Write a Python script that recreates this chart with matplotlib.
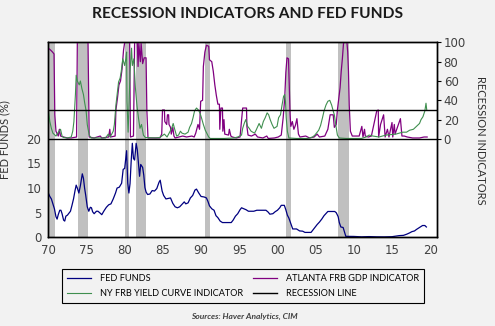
import matplotlib
matplotlib.use("Agg")
import matplotlib.pyplot as plt

# recession indicators and fed funds, 1970-2019

fed_year = [1970.0, 1970.2, 1970.4, 1970.6, 1970.8, 1971.0, 1971.15, 1971.3, 1971.5, 1971.65, 1971.8,
            1972.0, 1972.15, 1972.3, 1972.5, 1972.7, 1972.9, 1973.1, 1973.3, 1973.5, 1973.65, 1973.8,
            1974.0, 1974.2, 1974.45, 1974.6, 1974.75, 1974.9, 1975.1, 1975.3, 1975.5, 1975.65, 1975.8,
            1976.0, 1976.3, 1976.5, 1976.8, 1977.0, 1977.3, 1977.6, 1977.9, 1978.2, 1978.5, 1978.8,
            1979.0, 1979.3, 1979.6, 1979.8, 1980.0, 1980.25, 1980.4, 1980.55, 1980.7, 1980.85, 1981.0,
            1981.15, 1981.3, 1981.5, 1981.65, 1981.8, 1981.95, 1982.1, 1982.35, 1982.5, 1982.65, 1982.8,
            1983.0, 1983.3, 1983.6, 1983.9, 1984.2, 1984.5, 1984.65, 1984.9, 1985.1, 1985.4, 1985.7,
            1986.0, 1986.3, 1986.6, 1986.9, 1987.2, 1987.5, 1987.8, 1988.0, 1988.3, 1988.6, 1988.9,
            1989.2, 1989.4, 1989.7, 1990.0, 1990.4, 1990.7, 1990.9, 1991.1, 1991.4, 1991.7, 1991.95,
            1992.2, 1992.5, 1992.8, 1993.0, 1993.5, 1993.95, 1994.2, 1994.5, 1994.8, 1995.1, 1995.3,
            1995.6, 1995.9, 1996.2, 1996.5, 1996.9, 1997.3, 1997.7, 1998.0, 1998.5, 1998.8, 1999.0,
            1999.4, 1999.7, 2000.0, 2000.3, 2000.5, 2000.9, 2001.1, 2001.3, 2001.5, 2001.7, 2001.9,
            2002.0, 2002.5, 2002.9, 2003.3, 2003.6, 2004.0, 2004.4, 2004.6, 2004.9, 2005.2, 2005.5,
            2005.8, 2006.1, 2006.4, 2006.6, 2007.0, 2007.5, 2007.7, 2007.95, 2008.1, 2008.3, 2008.6,
            2008.8, 2008.95, 2009.3, 2010.0, 2011.0, 2012.0, 2013.0, 2014.0, 2015.0, 2015.95, 2016.5,
            2016.95, 2017.3, 2017.6, 2017.95, 2018.2, 2018.5, 2018.8, 2019.0, 2019.3, 2019.5]
fed_rate = [9.0, 8.3, 7.8, 6.8, 5.8, 4.2, 3.7, 4.6, 5.5, 5.5, 4.8,
            3.5, 3.3, 4.3, 4.5, 4.9, 5.3, 6.5, 7.8, 9.5, 10.6, 10.0,
            9.0, 10.5, 12.9, 12.0, 10.0, 8.5, 6.2, 5.3, 6.1, 6.0, 5.2,
            4.8, 5.3, 5.3, 4.9, 4.6, 5.4, 6.1, 6.6, 6.8, 7.8, 9.0,
            10.0, 10.2, 11.0, 13.8, 14.0, 17.6, 11.0, 9.0, 10.9, 15.5, 19.1,
            16.0, 15.7, 19.1, 17.8, 15.1, 12.4, 14.8, 14.2, 12.6, 10.1, 9.2,
            8.7, 8.8, 9.5, 9.4, 9.9, 11.2, 11.6, 9.4, 8.5, 7.8, 7.9,
            8.0, 6.9, 6.2, 6.0, 6.2, 6.7, 7.2, 6.8, 7.0, 8.0, 8.5,
            9.6, 9.8, 9.0, 8.3, 8.2, 8.0, 7.3, 6.4, 5.8, 5.5, 4.4,
            4.0, 3.3, 3.0, 3.0, 3.0, 3.0, 3.5, 4.3, 4.8, 5.6, 6.0,
            5.8, 5.6, 5.3, 5.3, 5.3, 5.5, 5.5, 5.5, 5.5, 5.1, 4.7,
            4.8, 5.2, 5.5, 6.0, 6.5, 6.5, 5.6, 4.5, 3.9, 3.0, 2.1,
            1.7, 1.7, 1.3, 1.25, 1.0, 1.0, 1.0, 1.4, 2.0, 2.6, 3.1,
            3.7, 4.4, 4.9, 5.25, 5.25, 5.25, 5.0, 4.2, 3.0, 2.1, 2.0,
            1.0, 0.2, 0.2, 0.18, 0.1, 0.15, 0.1, 0.09, 0.13, 0.35, 0.4,
            0.65, 0.9, 1.15, 1.3, 1.6, 1.9, 2.2, 2.4, 2.4, 2.1]

atl_year = [1970.0, 1970.3, 1970.55, 1970.75, 1970.85, 1971.0, 1971.3, 1971.45, 1971.6, 1972.0, 1972.5,
            1973.0, 1973.7, 1973.8, 1975.2, 1975.35, 1976.0, 1976.8, 1977.0, 1977.9, 1978.05, 1978.15,
            1978.75, 1978.85, 1979.05, 1979.25, 1979.45, 1979.65, 1979.85, 1980.0, 1980.65, 1980.75,
            1981.15, 1981.3, 1981.65, 1981.75, 1981.85, 1982.05, 1982.15, 1982.35, 1982.55, 1982.8,
            1982.9, 1983.05, 1984.6, 1984.85, 1984.95, 1985.2, 1985.25, 1985.5, 1985.6, 1985.75, 1985.8,
            1986.0, 1986.1, 1986.3, 1986.45, 1986.6, 1987.6, 1988.1, 1988.8, 1989.1, 1989.3, 1989.6,
            1989.8, 1989.95, 1990.2, 1990.3, 1990.5, 1990.7, 1991.0, 1991.1, 1991.4, 1991.6, 1991.8,
            1992.0, 1992.2, 1992.4, 1992.45, 1992.6, 1992.8, 1992.85, 1993.0, 1993.1, 1993.6, 1993.7,
            1993.9, 1994.1, 1994.6, 1995.1, 1995.25, 1995.45, 1995.95, 1996.0, 1996.15, 1996.6, 1997.1,
            1997.4, 1998.1, 1998.6, 1998.8, 1999.6, 2000.1, 2000.5, 2000.75, 2000.95, 2001.1, 2001.25,
            2001.45, 2001.55, 2001.65, 2001.75, 2001.95, 2002.15, 2002.35, 2002.55, 2002.75, 2002.95,
            2003.7, 2004.2, 2004.8, 2005.2, 2005.5, 2006.2, 2006.6, 2006.9, 2007.3, 2007.45, 2007.7,
            2007.85, 2008.2, 2008.35, 2008.5, 2008.65, 2008.75, 2009.1, 2009.2, 2009.3, 2009.4, 2009.55,
            2009.8, 2010.2, 2010.7, 2011.05, 2011.2, 2011.4, 2011.5, 2011.9, 2012.3, 2013.0, 2013.2,
            2013.25, 2013.5, 2013.9, 2014.1, 2014.4, 2014.6, 2015.0, 2015.1, 2015.3, 2015.4, 2016.1,
            2016.3, 2016.6, 2017.0, 2017.7, 2018.6, 2019.2, 2019.6]
atl_prob = [94, 92, 90, 88, 25, 8, 3, 10, 3, 2, 1,
            1, 2, 100, 100, 2, 1, 3, 1, 2, 10, 2,
            3, 30, 42, 56, 60, 72, 92, 100, 100, 2,
            3, 100, 100, 75, 99, 80, 99, 78, 84, 84,
            30, 1, 1, 5, 30, 30, 18, 15, 25, 25, 15,
            12, 5, 12, 3, 1, 3, 2, 3, 2, 6, 15,
            10, 39, 40, 75, 90, 97, 96, 82, 80, 70, 56,
            45, 36, 36, 10, 32, 32, 8, 20, 5, 4, 10,
            3, 2, 1, 2, 15, 32, 32, 13, 4, 3, 5,
            2, 1, 3, 0.5, 1, 2, 4, 22, 42, 69, 84,
            83, 53, 26, 13, 18, 10, 14, 21, 5, 2,
            3, 1, 2, 5, 2, 3, 10, 25, 25, 12, 15,
            30, 53, 70, 83, 99, 100, 100, 90, 70, 35, 8,
            3, 3, 3, 13, 2, 10, 3, 2, 3, 29, 30,
            2, 15, 25, 2, 10, 2, 17, 2, 15, 5, 21,
            3, 3, 2, 1, 1, 2, 2]

ny_year = [1970.0, 1970.2, 1970.4, 1970.6, 1971.0, 1971.4, 1971.6, 1971.8, 1972.0, 1972.5, 1973.0,
           1973.2, 1973.35, 1973.55, 1973.65, 1973.8, 1974.05, 1974.2, 1974.4, 1974.6, 1974.75, 1974.95,
           1975.1, 1975.35, 1975.6, 1976.5, 1977.5, 1977.85, 1978.1, 1978.5, 1978.65, 1978.85, 1979.05,
           1979.2, 1979.4, 1979.55, 1979.75, 1980.0, 1980.15, 1980.25, 1980.3, 1980.45, 1980.55, 1980.7,
           1980.9, 1981.0, 1981.2, 1981.4, 1981.6, 1981.8, 1982.0, 1982.2, 1982.45, 1982.7, 1984.0,
           1984.6, 1985.2, 1985.55, 1986.15, 1986.35, 1986.55, 1986.8, 1987.05, 1987.3, 1987.5, 1987.9,
           1988.3, 1988.5, 1988.75, 1988.95, 1989.15, 1989.4, 1989.65, 1989.85, 1990.05, 1990.3, 1990.55,
           1990.8, 1991.0, 1991.2, 1993.0, 1994.3, 1994.8, 1995.3, 1995.45, 1995.65, 1995.85, 1996.1,
           1996.3, 1996.55, 1997.0, 1997.2, 1997.6, 1997.9, 1998.15, 1998.4, 1998.65, 1998.85, 1999.05,
           1999.3, 1999.55, 1999.95, 2000.15, 2000.4, 2000.6, 2000.8, 2000.95, 2001.05, 2001.15, 2001.3,
           2001.5, 2002.5, 2004.0, 2004.6, 2004.9, 2005.4, 2005.65, 2005.9, 2006.1, 2006.35, 2006.6,
           2006.85, 2007.1, 2007.3, 2007.45, 2007.65, 2007.85, 2008.1, 2009.0, 2011.0, 2011.6, 2012.0,
           2012.5, 2013.3, 2014.2, 2015.5, 2016.4, 2016.9, 2017.3, 2017.8, 2018.2, 2018.6, 2018.8,
           2019.05, 2019.3, 2019.45, 2019.55]
ny_prob = [30, 18, 11, 6, 3, 8, 10, 3, 1.5, 1, 2,
           8, 18, 46, 66, 60, 56, 60, 52, 46, 38, 29,
           15, 4, 1, 1, 1, 5, 2, 8, 15, 35, 49,
           59, 63, 70, 83, 76, 83, 90, 39, 7, 30, 70,
           94, 76, 83, 53, 35, 22, 11, 15, 4, 1.5, 1,
           1.5, 5, 2, 11, 16, 10, 3, 4, 8, 6, 5,
           7, 12, 16, 22, 29, 32, 30, 27, 22, 15, 9,
           5, 2, 0.5, 0.5, 1, 2, 4, 11, 16, 20, 13,
           11, 8, 6, 9, 16, 11, 18, 22, 27, 25, 20,
           15, 11, 13, 22, 25, 35, 44, 46, 39, 22, 8,
           1, 0.5, 0.5, 2, 4, 9, 14, 22, 29, 35, 39,
           40, 35, 29, 25, 14, 4, 1, 0.5, 0.5, 2, 4,
           3, 2, 4, 5, 7, 7, 9, 10, 13, 16, 20,
           23, 29, 37, 30]

recession_line = 30
recessions = [(1969.92, 1970.92), (1973.83, 1975.17), (1980.0, 1980.5), (1981.5, 1982.83),
              (1990.5, 1991.17), (2001.17, 2001.83), (2007.92, 2009.42)]

year_ticks = [1970, 1975, 1980, 1985, 1990, 1995, 2000, 2005, 2010, 2015, 2020]
year_labels = ['70', '75', '80', '85', '90', '95', '00', '05', '10', '15', '20']

bg = '#f2f2f2'
fig = plt.figure(figsize=(4.95, 3.26), dpi=100, facecolor=bg)
ax = fig.add_axes([0.0976, 0.272, 0.7846, 0.598])
ax2 = ax.twinx()

for start, end in recessions:
    ax.axvspan(start, end, color='#c0c0c0', lw=0, zorder=0)

ax.plot(fed_year, fed_rate, color='#000080', lw=0.9, label='FED FUNDS')
ax2.plot(atl_year, atl_prob, color='#800080', lw=0.9, label='ATLANTA FRB GDP INDICATOR')
ax2.plot(ny_year, ny_prob, color='#3f8f4f', lw=0.8, label='NY FRB YIELD CURVE INDICATOR')
ax2.axhline(recession_line, color='black', lw=1.0, label='RECESSION LINE')
ax2.axhline(0, color='black', lw=1.0)

ax.set_xlim(1970, 2020.85)
ax.set_ylim(0, 39.6)
ax2.set_ylim(-101.9, 100)
ax.set_xticks(year_ticks)
ax.set_xticklabels(year_labels)
ax.set_yticks([0, 5, 10, 15, 20])
ax2.set_yticks([0, 20, 40, 60, 80, 100])

ax.tick_params(axis='x', length=0, pad=5, labelsize=8.5, labelcolor='#404040')
ax.tick_params(axis='y', length=0, pad=5, labelsize=8.5, labelcolor='#404040')
ax2.tick_params(axis='y', length=3, width=0.8, pad=2, labelsize=8.5, labelcolor='#404040')

for a in (ax, ax2):
    for s in a.spines.values():
        s.set_color('black')
        s.set_linewidth(1.0)

ax.set_ylabel('FED FUNDS (%)', fontsize=8, color='#303030', family='Lato')
ax.yaxis.set_label_coords(-0.099, 0.5)
ax2.set_ylabel('RECESSION INDICATORS', fontsize=8, color='#303030', family='Lato', rotation=-90,
               va='center')
ax2.yaxis.set_label_coords(1.114, 0.5)

fig.text(0.5, 1 - 14 / 326, 'RECESSION INDICATORS AND FED FUNDS', ha='center', va='center',
         fontsize=11.2, fontweight='bold', family='Lato', color='#1a1a1a')

h1, l1 = ax.get_legend_handles_labels()
h2, l2 = ax2.get_legend_handles_labels()
handles = [h1[0], h2[1], h2[0], h2[2]]
labels = [l1[0], l2[1], l2[0], l2[2]]
leg = fig.legend(handles, labels, loc='center', bbox_to_anchor=(243 / 495, 1 - 286 / 326), ncol=2,
                 frameon=True, fancybox=False, edgecolor='black', facecolor=bg, framealpha=1,
                 prop={'family': 'Lato', 'size': 6.6}, handlelength=2.6, columnspacing=1.1,
                 borderpad=0.55, labelspacing=0.6, handletextpad=1.0)
leg.get_frame().set_linewidth(0.8)

fig.text(0.493, 1 - 316 / 326, 'Sources: Haver Analytics, CIM', ha='center', va='center',
         fontsize=6, style='italic', fontweight='bold', family='Lato', color='#404040')

fig.savefig('out.png', dpi=100, facecolor=bg)
